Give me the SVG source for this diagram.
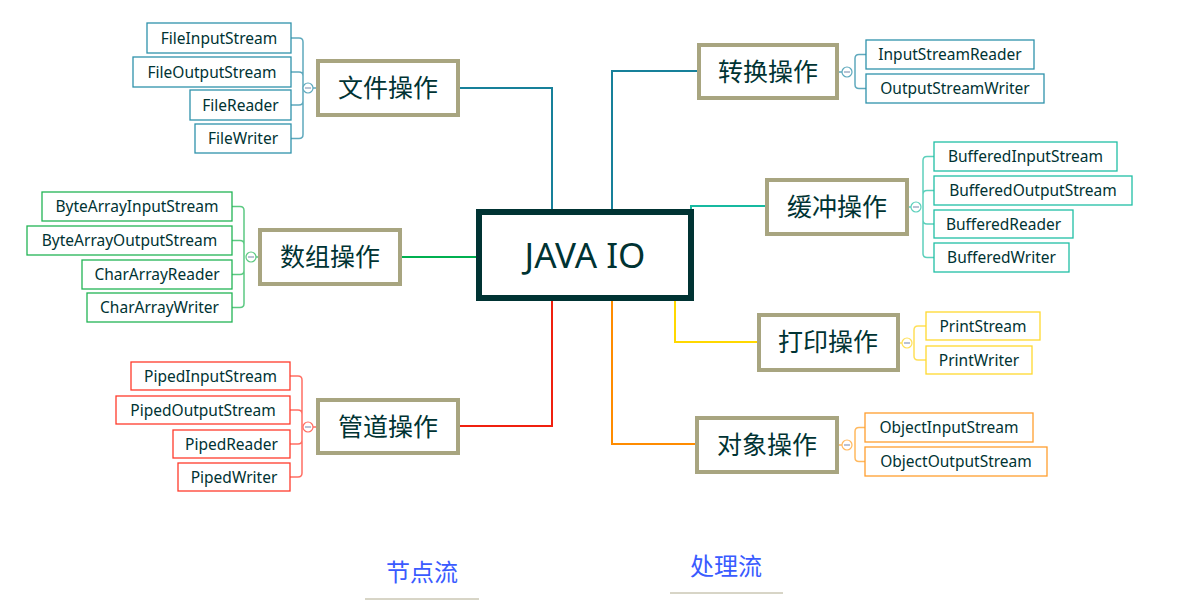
<svg xmlns="http://www.w3.org/2000/svg" width="1186" height="609" viewBox="0 0 1186 609">
<style>
.leaf{font-family:"Noto Sans","Liberation Sans",sans-serif;font-size:15.5px;fill:#003333;text-anchor:middle}
.topic{font-family:"Noto Sans CJK SC","Noto Sans",sans-serif;font-size:25px;fill:#003333;text-anchor:middle}
.tbox{fill:#fff;stroke:#a8a580;stroke-width:4}
.conn{fill:none;stroke-width:2}
.br{fill:none;stroke-width:1.5}
.lb{fill:#fff;stroke-width:1.3}
.dot{fill:#fff;stroke-width:1.2}
.minus{stroke:#8a9ab8;stroke-width:1.2}
.foot{font-family:"Noto Sans CJK SC",sans-serif;font-size:24px;fill:#3a5bff;text-anchor:middle}
</style>
<rect width="1186" height="609" fill="#fff"/>
<g id="connectors">
<path class="conn" stroke="#17809a" d="M552 212 V88 H460"/>
<path class="conn" stroke="#17809a" d="M612 212 V71 H697"/>
<path class="conn" stroke="#17b9a0" d="M691 210 V206 H765"/>
<path class="conn" stroke="#00b050" d="M477 257 H402"/>
<path class="conn" stroke="#f0200f" d="M552 300 V426 H460"/>
<path class="conn" stroke="#ffd800" d="M675 300 V342 H757"/>
<path class="conn" stroke="#ff8c00" d="M612 300 V444 H695"/>
<path class="br" stroke="#5fa9bd" d="M291 38 H299 Q303 38 303 42 V134.5 Q303 138.5 299 138.5 H291 M291 72 H299 Q303 72 303 76 M291 105 H299 Q303 105 303 101 M313 88 H316"/>
<path class="br" stroke="#5cc982" d="M232 206.5 H240 Q244 206.5 244 210.5 V303.5 Q244 307.5 240 307.5 H232 M232 240.5 H240 Q244 240.5 244 244.5 M232 274.5 H240 Q244 274.5 244 270.5 M256 257 H258"/>
<path class="br" stroke="#ff6f64" d="M290 376 H298 Q302 376 302 380 V473 Q302 477 298 477 H290 M290 410 H298 Q302 410 302 414 M290 444 H298 Q302 444 302 440 M313 427 H316"/>
<path class="br" stroke="#5fa9bd" d="M866 54.5 H859 Q855 54.5 855 58.5 V84.5 Q855 88.5 859 88.5 H866 M842 72 H839"/>
<path class="br" stroke="#5dd0bc" d="M934 156.5 H927 Q923 156.5 923 160.5 V253.5 Q923 257.5 927 257.5 H934 M934 190.5 H927 Q923 190.5 923 194.5 M934 224 H927 Q923 224 923 220 M911 207 H909"/>
<path class="br" stroke="#ffe05a" d="M926 326 H918 Q914 326 914 330 V356 Q914 360 918 360 H926 M902 343 H900"/>
<path class="br" stroke="#ffb95f" d="M865 427.5 H859 Q855 427.5 855 431.5 V457.5 Q855 461.5 859 461.5 H865 M842 445 H839"/>
<circle class="dot" stroke="#5fa9bd" cx="308" cy="88" r="5"/><path class="minus" d="M305 88 H311"/>
<circle class="dot" stroke="#5cc982" cx="251" cy="257" r="5"/><path class="minus" d="M248 257 H254"/>
<circle class="dot" stroke="#ff6f64" cx="308" cy="427" r="5"/><path class="minus" d="M305 427 H311"/>
<circle class="dot" stroke="#5fa9bd" cx="847" cy="72" r="5"/><path class="minus" d="M844 72 H850"/>
<circle class="dot" stroke="#5dd0bc" cx="916" cy="207" r="5"/><path class="minus" d="M913 207 H919"/>
<circle class="dot" stroke="#ffe05a" cx="907" cy="343" r="5"/><path class="minus" d="M904 343 H910"/>
<circle class="dot" stroke="#ffb95f" cx="847" cy="445" r="5"/><path class="minus" d="M844 445 H850"/>
</g>
<g id="root">
<rect x="479" y="212" width="212" height="86" fill="#fff" stroke="#003333" stroke-width="6"/>
<text x="585" y="268" font-family="Noto Sans, Liberation Sans, sans-serif" font-size="35" fill="#003333" text-anchor="middle">JAVA IO</text>
</g>
<g id="t-file"><rect class="tbox" x="318" y="61" width="140" height="54"/><text class="topic" x="388" y="97">文件操作</text></g>
<g id="t-array"><rect class="tbox" x="260" y="230" width="140" height="54"/><text class="topic" x="330" y="266">数组操作</text></g>
<g id="t-pipe"><rect class="tbox" x="318" y="400" width="140" height="53"/><text class="topic" x="388" y="436">管道操作</text></g>
<g id="t-convert"><rect class="tbox" x="699" y="45" width="138" height="53"/><text class="topic" x="768" y="81">转换操作</text></g>
<g id="t-buffer"><rect class="tbox" x="767" y="180" width="140" height="54"/><text class="topic" x="837" y="216">缓冲操作</text></g>
<g id="t-print"><rect class="tbox" x="759" y="315" width="139" height="55"/><text class="topic" x="828" y="351">打印操作</text></g>
<g id="t-object"><rect class="tbox" x="697" y="418" width="140" height="54"/><text class="topic" x="767" y="454">对象操作</text></g>

<g id="l-fis"><rect class="lb" stroke="#2f92ab" x="147" y="23" width="144" height="30"/><text class="leaf" x="219" y="43.5">FileInputStream</text></g>
<g id="l-fos"><rect class="lb" stroke="#2f92ab" x="133" y="57" width="158" height="30"/><text class="leaf" x="212" y="77.5">FileOutputStream</text></g>
<g id="l-fr"><rect class="lb" stroke="#2f92ab" x="190" y="90" width="101" height="30"/><text class="leaf" x="240.5" y="110.5">FileReader</text></g>
<g id="l-fw"><rect class="lb" stroke="#2f92ab" x="195" y="124" width="96" height="29"/><text class="leaf" x="243" y="144">FileWriter</text></g>

<g id="l-bais"><rect class="lb" stroke="#22b455" x="42" y="192" width="190" height="29"/><text class="leaf" x="137" y="212">ByteArrayInputStream</text></g>
<g id="l-baos"><rect class="lb" stroke="#22b455" x="27" y="226" width="205" height="29"/><text class="leaf" x="129.5" y="246">ByteArrayOutputStream</text></g>
<g id="l-car"><rect class="lb" stroke="#22b455" x="82" y="260" width="150" height="29"/><text class="leaf" x="157" y="280">CharArrayReader</text></g>
<g id="l-caw"><rect class="lb" stroke="#22b455" x="87" y="293" width="145" height="29"/><text class="leaf" x="159.5" y="313">CharArrayWriter</text></g>

<g id="l-pis"><rect class="lb" stroke="#ff3b2b" x="131" y="362" width="159" height="28"/><text class="leaf" x="210.5" y="381.5">PipedInputStream</text></g>
<g id="l-pos"><rect class="lb" stroke="#ff3b2b" x="116" y="396" width="174" height="28"/><text class="leaf" x="203" y="415.5">PipedOutputStream</text></g>
<g id="l-pr"><rect class="lb" stroke="#ff3b2b" x="173" y="430" width="117" height="28"/><text class="leaf" x="231.5" y="449.5">PipedReader</text></g>
<g id="l-pw"><rect class="lb" stroke="#ff3b2b" x="178" y="463" width="112" height="28"/><text class="leaf" x="234" y="482.5">PipedWriter</text></g>

<g id="l-isr"><rect class="lb" stroke="#2f92ab" x="866" y="40" width="168" height="29"/><text class="leaf" x="950" y="60">InputStreamReader</text></g>
<g id="l-osw"><rect class="lb" stroke="#2f92ab" x="866" y="74" width="178" height="29"/><text class="leaf" x="955" y="94">OutputStreamWriter</text></g>

<g id="l-bis"><rect class="lb" stroke="#20bfa5" x="934" y="142" width="183" height="29"/><text class="leaf" x="1025.5" y="162">BufferedInputStream</text></g>
<g id="l-bos"><rect class="lb" stroke="#20bfa5" x="934" y="176" width="198" height="29"/><text class="leaf" x="1033" y="196">BufferedOutputStream</text></g>
<g id="l-br"><rect class="lb" stroke="#20bfa5" x="934" y="210" width="139" height="28"/><text class="leaf" x="1003.5" y="229.5">BufferedReader</text></g>
<g id="l-bw"><rect class="lb" stroke="#20bfa5" x="934" y="243" width="135" height="29"/><text class="leaf" x="1001.5" y="263">BufferedWriter</text></g>

<g id="l-ps"><rect class="lb" stroke="#ffd92e" x="926" y="312" width="114" height="28"/><text class="leaf" x="983" y="331.5">PrintStream</text></g>
<g id="l-pwr"><rect class="lb" stroke="#ffd92e" x="926" y="346" width="106" height="28"/><text class="leaf" x="979" y="365.5">PrintWriter</text></g>

<g id="l-ois"><rect class="lb" stroke="#ff9e2f" x="865" y="413" width="168" height="29"/><text class="leaf" x="949" y="433">ObjectInputStream</text></g>
<g id="l-oos"><rect class="lb" stroke="#ff9e2f" x="865" y="447" width="182" height="29"/><text class="leaf" x="956" y="467">ObjectOutputStream</text></g>

<g id="footer">
<text class="foot" x="422" y="581">节点流</text>
<line x1="365" y1="599" x2="479" y2="599" stroke="#b0ab8e" stroke-width="1"/>
<text class="foot" x="726" y="575">处理流</text>
<line x1="670" y1="593" x2="783" y2="593" stroke="#b0ab8e" stroke-width="1"/>
</g>
</svg>
